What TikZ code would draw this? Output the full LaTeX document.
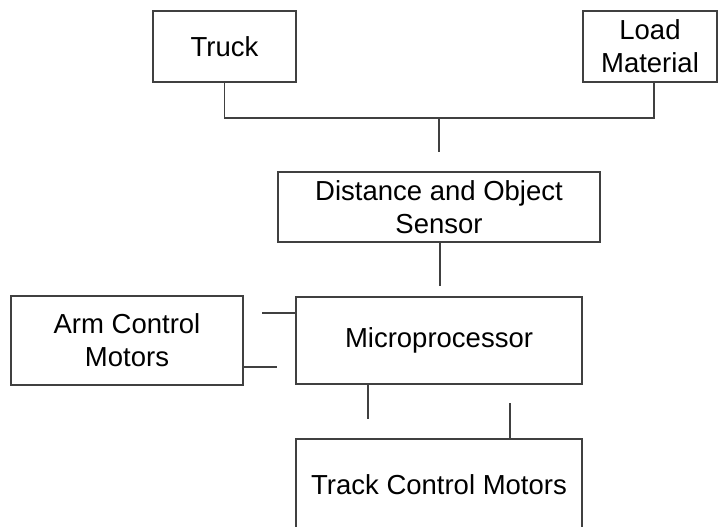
\documentclass[tikz,border=0pt]{standalone}
\usepackage{fontspec}
\setmainfont{Liberation Sans}
\usetikzlibrary{calc}
\definecolor{linegray}{RGB}{64,64,64}
\tikzset{
  blk/.style={draw=linegray, line width=1.4pt, fill=white, inner sep=0pt,
    align=center, font=\fontsize{27.5}{33}\selectfont, text=black},
  wire/.style={draw=linegray, line width=1.6pt}
}
\begin{document}
\begin{tikzpicture}[x=1pt,y=-1pt]
\useasboundingbox (0,0) rectangle (718,527);
\clip (0,0) rectangle (718,527);
\node[blk, minimum width=143pt, minimum height=71pt] (truck) at (224.5,46.5) {Truck};
\node[blk, minimum width=134pt, minimum height=71pt] (load) at (650,46.5) {Load\\Material};
\node[blk, minimum width=322pt, minimum height=70pt] (sensor) at (439,207) {Distance and Object\\Sensor};
\node[blk, minimum width=286pt, minimum height=87pt] (micro) at (439,340.5) {Microprocessor};
\node[blk, minimum width=232pt, minimum height=89pt] (arm) at (127,340.5) {Arm Control\\Motors};
\node[blk, minimum width=286pt, minimum height=92pt] (track) at (439,485) {Track Control Motors};

\coordinate (j) at (439,118);
\coordinate (je) at (439,152);
\draw[wire] (truck.south) |- (j) -| ($(load.south)+(4,0)$);
\draw[wire] (j) -- (je);

\coordinate (se) at (440,286);
\draw[wire] ($(sensor.south)+(1,0)$) -- (se);

\coordinate (a1) at (262,313);
\draw[wire] (a1) -- (micro.west |- a1);
\coordinate (a2) at (277,367);
\draw[wire] (arm.east |- a2) -- (a2);

\coordinate (t1) at (368,419);
\draw[wire] (micro.south -| t1) -- (t1);
\coordinate (t2) at (510,403);
\draw[wire] (t2) -- (track.north -| t2);
\end{tikzpicture}
\end{document}
